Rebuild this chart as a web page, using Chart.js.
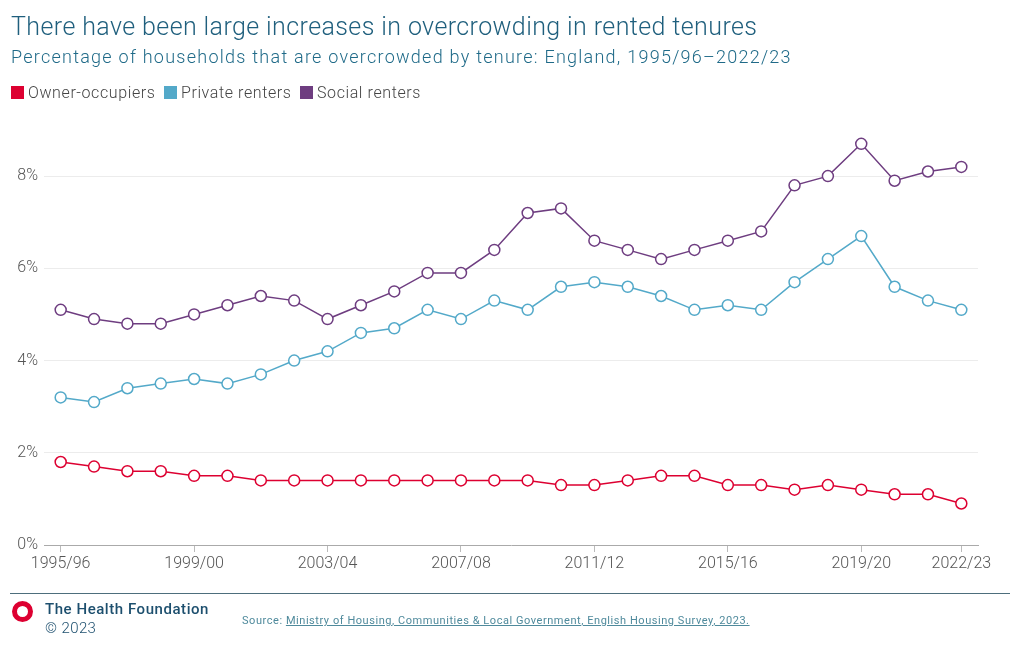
<!DOCTYPE html>
<html>
<head>
<meta charset="utf-8">
<script src="https://cdn.jsdelivr.net/npm/chart.js@4"></script>
<style>
  body { margin: 0; background: #fff; font-family: Roboto, "Liberation Sans", sans-serif; }
  #wrap { position: relative; width: 1020px; height: 650px; overflow: hidden; }
  #chart { position: absolute; left: 0; top: 0; }
  .title { position: absolute; left: 11px; top: 12px; font-size: 25px; color: #1f5f7d; font-weight: 300; letter-spacing: 0.4px; }
  .subtitle { position: absolute; left: 11px; top: 46px; font-size: 18px; color: #1f6a88; font-weight: 300; letter-spacing: 1.25px; }
  .legend { position: absolute; left: 11px; top: 83px; font-size: 16px; color: #444; font-weight: 300; letter-spacing: 0.6px; }
  .legend span.sw { display: inline-block; width: 13px; height: 13px; vertical-align: -1px; margin-right: 4px; }
  .legend span.item { margin-right: 4px; }
  .rule { position: absolute; left: 10px; top: 593px; width: 1000px; height: 1px; background: #4d6e7c; }
  .logo { position: absolute; left: 12px; top: 601px; width: 11px; height: 11px; border: 5px solid #dd0031; border-radius: 50%; }
  .org { position: absolute; left: 45px; top: 600px; font-size: 15px; font-weight: 500; color: #1d4f6e; letter-spacing: 0.55px; }
  .copy { position: absolute; left: 45px; top: 619px; font-size: 15px; color: #1d4f6e; font-weight: 300; letter-spacing: 0.4px; }
  .source { position: absolute; left: 242px; top: 614px; font-size: 11px; color: #4f8a9c; letter-spacing: 0.55px; }
  .source u { text-decoration: underline; }
</style>
</head>
<body>
<div id="wrap">
  <canvas id="chart" width="1020" height="650"></canvas>
  <div class="title">There have been large increases in overcrowding in rented tenures</div>
  <div class="subtitle">Percentage of households that are overcrowded by tenure: England, 1995/96–2022/23</div>
  <div class="legend">
    <span class="item"><span class="sw" style="background:#dd0031"></span>Owner-occupiers</span>
    <span class="item"><span class="sw" style="background:#53a9c9"></span>Private renters</span>
    <span class="item"><span class="sw" style="background:#6e3d80"></span>Social renters</span>
  </div>
  <div class="rule"></div>
  <div class="logo"></div>
  <div class="org">The Health Foundation</div>
  <div class="copy">© 2023</div>
  <div class="source">Source: <u>Ministry of Housing, Communities &amp; Local Government, English Housing Survey, 2023.</u></div>
</div>
<script>
const years = ['1995/96', '1996/97', '1997/98', '1998/99', '1999/00', '2000/01', '2001/02', '2002/03', '2003/04', '2004/05',
  '2005/06', '2006/07', '2007/08', '2008/09', '2009/10', '2010/11', '2011/12', '2012/13', '2013/14', '2014/15',
  '2015/16', '2016/17', '2017/18', '2018/19', '2019/20', '2020/21', '2021/22', '2022/23'];
const shownLabels = ['1995/96', '1999/00', '2003/04', '2007/08', '2011/12', '2015/16', '2019/20', '2022/23'];

const ownerOccupiers = [1.8, 1.7, 1.6, 1.6, 1.5, 1.5, 1.4, 1.4, 1.4, 1.4, 1.4, 1.4, 1.4, 1.4, 1.4, 1.3, 1.3, 1.4, 1.5, 1.5, 1.3, 1.3, 1.2, 1.3, 1.2, 1.1, 1.1, 0.9];
const privateRenters = [3.2, 3.1, 3.4, 3.5, 3.6, 3.5, 3.7, 4.0, 4.2, 4.6, 4.7, 5.1, 4.9, 5.3, 5.1, 5.6, 5.7, 5.6, 5.4, 5.1, 5.2, 5.1, 5.7, 6.2, 6.7, 5.6, 5.3, 5.1];
const socialRenters = [5.1, 4.9, 4.8, 4.8, 5.0, 5.2, 5.4, 5.3, 4.9, 5.2, 5.5, 5.9, 5.9, 6.4, 7.2, 7.3, 6.6, 6.4, 6.2, 6.4, 6.6, 6.8, 7.8, 8.0, 8.7, 7.9, 8.1, 8.2];

function series(label, data, color) {
  return {
    label: label,
    data: data,
    borderColor: color,
    borderWidth: 1.5,
    pointRadius: 5.5,
    pointBorderWidth: 1.5,
    pointBackgroundColor: '#fff',
    pointBorderColor: color,
    tension: 0
  };
}

new Chart(document.getElementById('chart'), {
  type: 'line',
  data: {
    labels: years,
    datasets: [
      series('Social renters', socialRenters, '#6e3d80'),
      series('Private renters', privateRenters, '#53a9c9'),
      series('Owner-occupiers', ownerOccupiers, '#dd0031')
    ]
  },
  options: {
    responsive: false,
    animation: false,
    layout: { padding: { left: 0, right: 42, top: 130, bottom: 60 } },
    plugins: { legend: { display: false }, tooltip: { enabled: false } },
    scales: {
      x: {
        offset: true,
        afterFit: function (scale) { scale.height = 45; },
        border: { display: true, color: '#aaa', width: 1 },
        grid: {
          offset: false,
          drawOnChartArea: false,
          tickLength: 7,
          color: function (ctx) {
            return shownLabels.includes(years[ctx.index]) ? '#bbb' : 'rgba(0,0,0,0)';
          }
        },
        ticks: {
          autoSkip: false,
          maxRotation: 0,
          padding: 2,
          color: '#555',
          font: { family: 'Roboto', size: 16, weight: 300 },
          callback: function (value) {
            const lab = years[value];
            return shownLabels.includes(lab) ? lab : '';
          }
        }
      },
      y: {
        min: 0,
        max: 9,
        afterFit: function (scale) { scale.width = 44; },
        afterBuildTicks: function (scale) {
          scale.ticks = scale.ticks.filter(function (t) { return t.value % 2 === 0; });
        },
        border: { display: false },
        grid: {
          color: function (ctx) { return ctx.tick && ctx.tick.value === 0 ? 'rgba(0,0,0,0)' : '#ececec'; },
          drawTicks: false
        },
        ticks: {
          stepSize: 2,
          padding: 6,
          color: '#555',
          font: { family: 'Roboto', size: 16, weight: 300 },
          callback: function (value) { return value + '%'; }
        }
      }
    }
  }
});
</script>
</body>
</html>
